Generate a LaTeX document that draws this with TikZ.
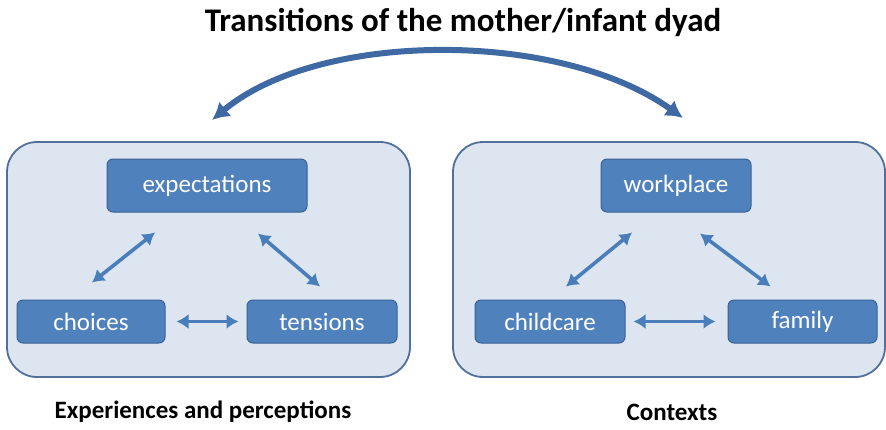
\documentclass[tikz,border=0pt]{standalone}
\usepackage{fontspec}
\setmainfont{Carlito}
\usepackage{tikz}
\usetikzlibrary{positioning}
\usetikzlibrary{arrows.meta}

\definecolor{panelfill}{HTML}{DCE5F0}
\definecolor{paneledge}{HTML}{52709A}
\definecolor{boxfill}{HTML}{4F81BD}
\definecolor{boxedge}{HTML}{3A6194}
\definecolor{arrowblue}{HTML}{4A7EBB}
\definecolor{archblue}{HTML}{3F69A2}

\begin{document}
\begin{tikzpicture}[x=1pt,y=-1pt,
    panel/.style={draw=paneledge,line width=1.8pt,fill=panelfill,rounded corners=30pt},
    item/.style={draw=boxedge,line width=1pt,fill=boxfill,rounded corners=6pt,
                 text=white,font=\fontsize{25}{28}\selectfont,minimum height=43pt},
    link/.style={<->,>={Latex[length=12pt,width=15pt]},draw=arrowblue,line width=3.6pt},
    caption/.style={font=\bfseries\fontsize{25}{28}\selectfont}]
  \useasboundingbox (0,0) rectangle (886,429);

  \node[font=\bfseries\fontsize{33}{36}\selectfont] (title) at (463,22) {Transitions of the mother/infant dyad};

  % the two panels
  \node[panel,minimum width=403pt,minimum height=235pt] (leftpanel)  at (208.5,259.5) {};
  \node[panel,minimum width=432pt,minimum height=235pt] (rightpanel) at (669,259.5)   {};

  \node[item,minimum width=200pt,minimum height=53pt] (expect)    at (207,185.5)   {expectations};
  \node[item,minimum width=148pt]                     (choices)   at (91,321.5)    {choices};
  \node[item,minimum width=150pt]                     (tensions)  at (322,321.5)   {tensions};

  \node[item,minimum width=150pt,minimum height=53pt] (workplace) at (676,185.5)   {workplace};
  \node[item,minimum width=150pt]                     (childcare) at (550,321.5)   {childcare};
  \node[item,minimum width=149pt]                     (family)    at (802.5,321.5) {family};

  \node[caption] (experiences) at (203,412) {Experiences and perceptions};
  \node[caption] (contexts)    at (672,412) {Contexts};

  % links inside the panels
  \draw[link] ([shift={(-52,20)}]expect.south) -- ([shift={(1,-17)}]choices.north);
  \draw[link] ([shift={(51,21)}]expect.south)  -- ([shift={(-2,-13)}]tensions.north);
  \draw[link,shorten <=11pt,shorten >=8pt] (choices) -- (tensions);

  \draw[link] ([shift={(-44,20)}]workplace.south) -- ([shift={(16,-13)}]childcare.north);
  \draw[link] ([shift={(24,21)}]workplace.south)  -- ([shift={(-32,-13)}]family.north);
  \draw[link,shorten <=8pt,shorten >=12pt] (childcare) -- (family);

  % arch between the panels
  \coordinate (archleft)  at (212,120);
  \coordinate (archright) at (683,118);
  \draw[<->,>={Latex[length=17pt,width=19pt]},draw=archblue,line width=6pt]
    (archleft) .. controls (320,30) and (560,30) .. (archright);
\end{tikzpicture}
\end{document}
